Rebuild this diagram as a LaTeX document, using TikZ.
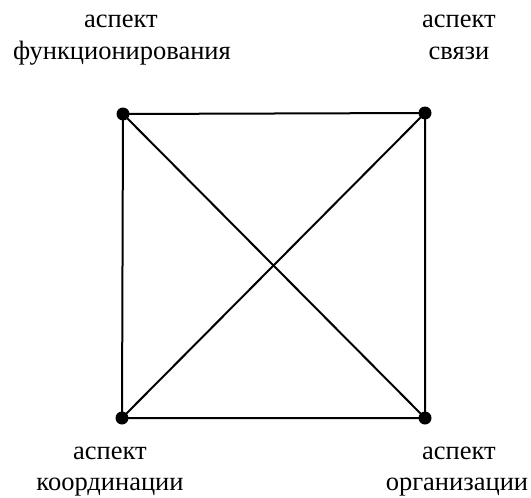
\documentclass[tikz,border=0pt]{standalone}
\usepackage{fontspec}
\setmainfont{Liberation Serif}
\begin{document}
\begin{tikzpicture}[x=1pt,y=-1pt,
  lbl/.style={font=\fontsize{26.5}{31}\selectfont, inner sep=0pt, anchor=base},
  dot/.style={circle, fill=black, inner sep=0pt, minimum size=13pt},
  edge/.style={line width=2pt}]
\useasboundingbox (0,0) rectangle (531,498);
\node[dot] (tl) at (123,114) {};
\node[dot] (tr) at (425,113) {};
\node[dot] (bl) at (122,418) {};
\node[dot] (br) at (425,418) {};
\draw[edge] (tl.center) -- (tr.center) -- (br.center) -- (bl.center) -- cycle;
\draw[edge] (tl.center) -- (br.center);
\draw[edge] (tr.center) -- (bl.center);
\node[lbl] (ltla) at (121,27) {аспект};
\node[lbl] (ltlb) at (122,59) {функционирования};
\node[lbl] (ltra) at (459,27) {аспект};
\node[lbl] (ltrb) at (459,59) {связи};
\node[lbl] (lbla) at (110,459) {аспект};
\node[lbl] (lblb) at (110,490) {координации};
\node[lbl] (lbra) at (459,459) {аспект};
\node[lbl] (lbrb) at (457,490) {организации};
\end{tikzpicture}
\end{document}
